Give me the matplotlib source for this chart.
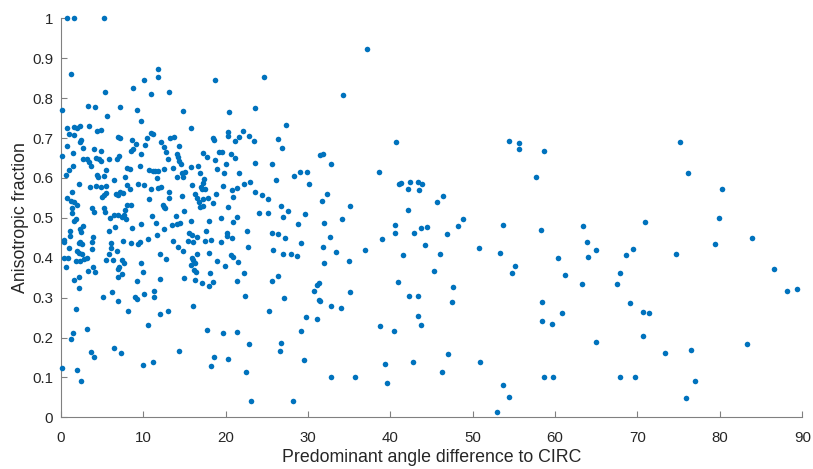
import matplotlib
matplotlib.use("Agg")
import matplotlib.pyplot as plt
from matplotlib.ticker import FuncFormatter

# Angle difference (deg) and anisotropic fraction, grouped by angle band

angle_a = [0.73, 1.61, 5.29, 1.21, 5.41, 8.81, 0.2, 3.35, 4.16, 7.16, 9.26, 5.62, 9.71, 0.8,
           1.61, 1.94, 2.34, 3.47, 1.0, 1.61, 4.37, 4.85, 6.92, 7.16, 2.34, 2.5, 0.8, 8.69,
           9.1, 2.71, 4.04, 4.85, 8.74, 8.53, 0.16, 1.46, 9.78, 2.67, 3.23, 3.47, 3.64, 4.32,
           4.68, 4.85, 5.83, 6.8, 7.11, 1.46, 1.04, 0.64, 5.46, 8.08, 8.41, 9.59, 4.44, 4.49,
           5.25, 7.84, 6.5, 2.26, 3.56, 4.25, 4.85, 5.46, 8.01, 8.45, 9.42, 1.33, 5.46, 5.25,
           5.01, 6.67, 6.99, 7.23, 7.6, 0.73, 1.21, 1.61, 2.01, 8.08, 8.57, 1.33, 7.77, 3.84,
           4.08, 5.25, 5.38]
frac_a = [1.0, 1.0, 1.0, 0.861, 0.816, 0.826, 0.771, 0.781, 0.777, 0.778, 0.771, 0.755, 0.742, 0.724,
          0.728, 0.726, 0.730, 0.729, 0.710, 0.707, 0.718, 0.720, 0.702, 0.699, 0.690, 0.694, 0.680, 0.695,
          0.685, 0.676, 0.672, 0.668, 0.672, 0.668, 0.656, 0.663, 0.660, 0.647, 0.647, 0.639, 0.631, 0.651,
          0.648, 0.642, 0.647, 0.647, 0.656, 0.631, 0.621, 0.608, 0.620, 0.625, 0.622, 0.630, 0.608, 0.602,
          0.605, 0.602, 0.595, 0.585, 0.577, 0.581, 0.578, 0.580, 0.583, 0.572, 0.585, 0.565, 0.563, 0.556,
          0.552, 0.560, 0.556, 0.565, 0.562, 0.550, 0.543, 0.539, 0.532, 0.532, 0.531, 0.524, 0.520, 0.525,
          0.515, 0.525, 0.515]

angle_b = [1.41, 5.98, 6.5, 6.99, 7.4, 7.68, 7.96, 1.61, 1.86, 2.71, 2.34, 2.5, 1.17, 1.09,
           0.4, 0.4, 3.88, 3.76, 2.34, 2.55, 2.26, 0.97, 3.76, 1.94, 2.22, 2.58, 3.23, 2.79,
           0.44, 0.92, 1.89, 2.31, 0.61, 3.35, 3.88, 4.2, 1.65, 2.18, 2.26, 1.89, 3.16, 1.46,
           1.25, 3.64, 4.0, 0.16, 2.01, 2.43, 5.9, 6.59, 8.62, 9.71, 6.1, 6.1, 7.6, 8.5,
           9.59, 9.42, 6.87, 5.9, 5.46, 6.35, 7.4, 7.65, 7.11, 6.99, 9.78, 7.44, 6.92, 9.3,
           6.23, 5.1, 6.95, 9.05, 9.22, 8.17, 6.5, 7.36]
frac_b = [0.513, 0.500, 0.506, 0.506, 0.501, 0.506, 0.496, 0.493, 0.496, 0.480, 0.471, 0.464, 0.466, 0.455,
          0.444, 0.439, 0.451, 0.439, 0.440, 0.434, 0.436, 0.425, 0.423, 0.418, 0.413, 0.409, 0.400, 0.398,
          0.400, 0.400, 0.392, 0.392, 0.377, 0.367, 0.376, 0.364, 0.345, 0.352, 0.324, 0.272, 0.221, 0.211,
          0.197, 0.163, 0.152, 0.124, 0.119, 0.090, 0.468, 0.476, 0.474, 0.484, 0.436, 0.424, 0.443, 0.436,
          0.440, 0.434, 0.416, 0.409, 0.394, 0.395, 0.394, 0.387, 0.377, 0.371, 0.387, 0.359, 0.352, 0.342,
          0.314, 0.301, 0.292, 0.301, 0.296, 0.267, 0.174, 0.162]

angle_c = [11.81, 11.85, 10.07, 18.76, 11.0, 13.18, 14.84, 15.85, 10.96, 11.17, 10.51, 13.23, 13.71,
           10.27, 12.17, 12.58, 12.74, 14.36, 18.45, 18.64, 14.08, 14.24, 14.39, 14.56, 13.02, 17.31,
           17.72, 19.17, 19.61, 18.76, 20.02, 10.68, 11.24, 11.48, 11.77, 12.58, 13.63, 15.85, 16.7,
           16.87, 14.68, 15.08, 19.0, 19.85, 11.69, 14.11, 14.8, 17.35, 17.23, 17.06, 17.15, 10.07,
           10.96, 11.85, 12.14, 13.14, 15.97, 17.55, 18.88, 19.73, 10.75, 13.14, 14.76, 16.34, 16.5,
           16.82, 17.31, 17.91, 18.48, 12.38, 12.54, 12.69, 16.94, 17.23, 15.0]
frac_c = [0.874, 0.854, 0.845, 0.846, 0.811, 0.815, 0.768, 0.725, 0.713, 0.710, 0.699, 0.699, 0.702,
          0.683, 0.689, 0.677, 0.664, 0.680, 0.700, 0.694, 0.660, 0.652, 0.643, 0.636, 0.647, 0.662,
          0.653, 0.665, 0.665, 0.645, 0.635, 0.620, 0.617, 0.617, 0.618, 0.622, 0.625, 0.628, 0.630,
          0.613, 0.613, 0.615, 0.623, 0.612, 0.600, 0.602, 0.602, 0.597, 0.588, 0.578, 0.572, 0.583,
          0.573, 0.574, 0.577, 0.564, 0.583, 0.573, 0.560, 0.580, 0.548, 0.550, 0.555, 0.560, 0.550,
          0.540, 0.547, 0.550, 0.538, 0.533, 0.528, 0.525, 0.528, 0.530, 0.516]

angle_d = [11.04, 11.57, 13.96, 15.81, 18.03, 19.45, 13.51, 14.08, 14.48, 12.54, 11.69, 15.53, 15.93,
           16.58, 17.6, 10.56, 13.67, 15.41, 16.09, 17.55, 18.2, 19.45, 14.24, 14.84, 12.09, 12.82,
           16.5, 18.03, 15.93, 16.09, 16.26, 15.85, 18.97, 19.9, 9.99, 16.14, 16.38, 18.16, 15.0,
           12.01, 16.3, 17.15, 18.48, 17.96, 10.07, 11.36, 11.29, 16.09, 12.09, 13.02, 10.63, 17.72,
           19.66, 14.39, 18.6, 18.24, 10.02, 11.24]
frac_d = [0.504, 0.487, 0.504, 0.493, 0.493, 0.500, 0.483, 0.484, 0.486, 0.472, 0.457, 0.463, 0.458,
          0.453, 0.467, 0.446, 0.441, 0.441, 0.439, 0.443, 0.444, 0.439, 0.427, 0.417, 0.410, 0.397,
          0.410, 0.411, 0.400, 0.394, 0.387, 0.382, 0.392, 0.379, 0.365, 0.368, 0.363, 0.362, 0.350,
          0.347, 0.344, 0.337, 0.340, 0.330, 0.310, 0.317, 0.301, 0.278, 0.259, 0.267, 0.231, 0.220,
          0.211, 0.166, 0.150, 0.128, 0.131, 0.138]

angle_e = [24.67, 20.39, 23.54, 27.38, 20.3, 20.3, 21.15, 21.64, 22.16, 22.82, 23.46, 26.41, 26.89,
           20.63, 21.15, 23.58, 25.6, 21.64, 28.31, 29.08, 29.93, 30.11, 26.17, 22.28, 22.97, 20.79,
           20.87, 21.36, 23.62, 24.47, 25.19, 26.77, 27.62, 20.3, 24.07, 25.19, 29.68, 21.4, 20.87,
           27.01, 28.83, 20.22, 20.22, 20.79, 22.57, 25.64, 26.41, 27.26, 29.16, 22.69, 25.76, 27.0,
           27.91, 28.71, 20.7, 20.91, 21.55, 22.21, 21.4, 25.6, 26.33, 22.33, 27.1, 25.32, 29.73,
           21.4, 29.16, 22.89, 26.77, 26.61, 20.3, 29.56, 22.45, 23.13, 28.23]
frac_e = [0.853, 0.765, 0.775, 0.733, 0.714, 0.705, 0.693, 0.702, 0.718, 0.705, 0.692, 0.697, 0.675,
          0.660, 0.649, 0.637, 0.634, 0.612, 0.606, 0.614, 0.615, 0.585, 0.596, 0.585, 0.590, 0.570,
          0.553, 0.575, 0.565, 0.557, 0.548, 0.529, 0.516, 0.526, 0.512, 0.512, 0.510, 0.503, 0.490,
          0.502, 0.485, 0.461, 0.454, 0.449, 0.468, 0.461, 0.459, 0.449, 0.436, 0.426, 0.419, 0.409,
          0.409, 0.405, 0.407, 0.401, 0.390, 0.362, 0.341, 0.342, 0.355, 0.303, 0.298, 0.267, 0.252,
          0.214, 0.216, 0.183, 0.186, 0.165, 0.145, 0.143, 0.114, 0.040, 0.042]

angle_f = [37.14, 34.3, 40.73, 31.47, 31.8, 32.8, 38.67, 41.06, 41.3, 42.39, 43.36, 43.88, 42.15,
           43.45, 32.32, 31.67, 46.43, 45.67, 35.15, 42.15, 32.0, 34.14, 48.79, 48.22, 40.53, 40.53,
           43.69, 44.45, 42.88, 46.92, 32.65, 38.99, 31.83, 36.97, 33.41, 44.25, 41.5, 46.0, 34.95,
           31.92, 45.34, 40.97, 31.07, 31.31, 30.7, 35.15, 47.61, 42.31, 43.36, 31.31, 31.51, 32.8,
           34.02, 47.52, 31.1, 43.4, 43.69, 38.75, 40.45, 46.97, 39.39, 42.79, 46.31, 32.8, 35.75,
           39.6]
frac_f = [0.924, 0.808, 0.689, 0.658, 0.660, 0.635, 0.614, 0.585, 0.588, 0.590, 0.590, 0.584, 0.572,
          0.570, 0.560, 0.543, 0.555, 0.539, 0.529, 0.520, 0.487, 0.496, 0.496, 0.479, 0.481, 0.463,
          0.474, 0.477, 0.462, 0.459, 0.453, 0.448, 0.428, 0.419, 0.414, 0.432, 0.408, 0.410, 0.392,
          0.386, 0.366, 0.339, 0.332, 0.336, 0.317, 0.315, 0.327, 0.304, 0.304, 0.295, 0.291, 0.280,
          0.275, 0.288, 0.246, 0.255, 0.231, 0.228, 0.217, 0.158, 0.133, 0.139, 0.114, 0.101, 0.100,
          0.086]

angle_g = [54.41, 55.65, 55.65, 58.69, 57.68, 53.68, 58.33, 63.42, 70.91, 50.73, 53.35, 63.91, 64.93,
           64.03, 60.32, 69.49, 68.64, 55.13, 54.77, 61.24, 67.88, 67.51, 63.3, 58.45, 69.12, 60.88,
           58.45, 59.66, 70.63, 70.67, 64.93, 50.85, 58.69, 59.71, 67.88, 69.74, 53.71, 54.37, 52.95]
frac_g = [0.692, 0.687, 0.672, 0.668, 0.603, 0.482, 0.469, 0.479, 0.489, 0.424, 0.413, 0.440, 0.420,
          0.401, 0.400, 0.421, 0.406, 0.380, 0.361, 0.357, 0.362, 0.333, 0.333, 0.289, 0.286, 0.261,
          0.241, 0.234, 0.263, 0.205, 0.190, 0.139, 0.101, 0.101, 0.102, 0.102, 0.082, 0.052, 0.014]

angle_h = [75.12, 76.13, 80.22, 79.85, 83.9, 79.4, 74.67, 86.53, 88.14, 89.32, 71.43, 83.33, 73.37,
           76.53, 76.98, 75.85]
frac_h = [0.689, 0.612, 0.573, 0.500, 0.449, 0.434, 0.409, 0.372, 0.317, 0.321, 0.262, 0.184, 0.162,
          0.169, 0.092, 0.048]

angles = angle_a + angle_b + angle_c + angle_d + angle_e + angle_f + angle_g + angle_h
fractions = frac_a + frac_b + frac_c + frac_d + frac_e + frac_f + frac_g + frac_h

x_ticks = [0, 10, 20, 30, 40, 50, 60, 70, 80, 90]
y_ticks = [0, 0.1, 0.2, 0.3, 0.4, 0.5, 0.6, 0.7, 0.8, 0.9, 1.0]

plt.rcParams["font.family"] = ["Liberation Sans", "DejaVu Sans"]

axis_gray = "#808080"
text_gray = "#262626"

fig = plt.figure(figsize=(8.13, 4.69), dpi=100)
ax = fig.add_axes([0.0747, 0.1102, 0.9121, 0.8507])

ax.scatter(angles, fractions, s=16, color="#0072BD", linewidths=0, clip_on=False, zorder=3)

ax.set_xlim(0, 90)
ax.set_ylim(0, 1)
ax.set_xticks(x_ticks)
ax.set_yticks(y_ticks)
ax.yaxis.set_major_formatter(FuncFormatter(lambda v, p: f"{v:g}"))

for side in ("top", "right"):
    ax.spines[side].set_visible(False)
for side in ("left", "bottom"):
    ax.spines[side].set_color(axis_gray)
    ax.spines[side].set_linewidth(0.8)

ax.tick_params(axis="both", direction="in", length=4.3, width=0.8, color=axis_gray,
               labelcolor=text_gray, labelsize=10.8)
ax.tick_params(axis="x", pad=10)
ax.tick_params(axis="y", pad=5.5)

ax.set_xlabel("Predominant angle difference to CIRC", fontsize=12.8, color=text_gray)
ax.set_ylabel("Anisotropic fraction", fontsize=12.8, color=text_gray)
ax.xaxis.set_label_coords(0.5, -0.079)
ax.yaxis.set_label_coords(-0.043, 0.5)

fig.savefig("out.png", dpi=100)
